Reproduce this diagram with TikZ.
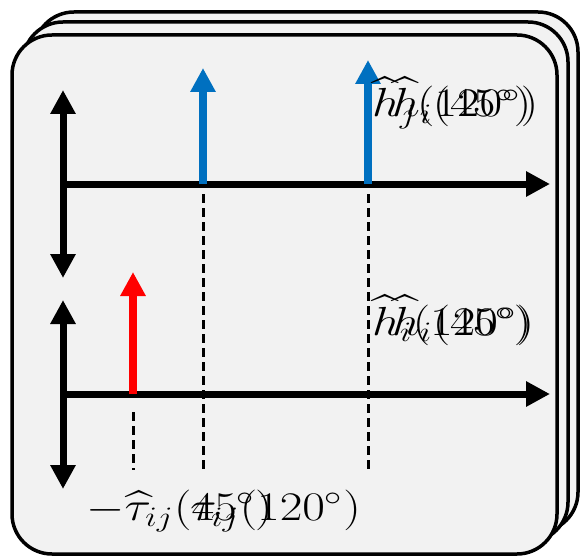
\documentclass[tikz,border=0pt]{standalone}
\usepackage{amsmath}
\usepackage{graphicx}
\usetikzlibrary{arrows.meta}
\definecolor{pagegray}{HTML}{F2F2F2}
\definecolor{impblue}{HTML}{0070C0}
\definecolor{impred}{HTML}{FF0000}
\newcommand{\biglbl}[1]{\scalebox{2.85}[2.35]{\LARGE$#1$}}
\tikzset{
  page/.style={draw=black,line width=3.5pt,fill=pagegray,rounded corners=40pt},
  axisline/.style={line width=7pt,-{Triangle[width=24pt,length=24pt]}},
  ampaxis/.style={line width=7pt,{Triangle[width=24pt,length=24pt]}-{Triangle[width=24pt,length=24pt]}},
  pulse/.style={line width=8pt,-{Triangle[width=24pt,length=24pt]}},
  guide/.style={line width=3pt,dash pattern=on 9pt off 5pt},
  lbl/.style={inner sep=0pt,anchor=base west}
}
\begin{document}
\begin{tikzpicture}[x=1pt,y=-1pt]
\useasboundingbox(0,0)rectangle(580,556);
% stacked pages
\draw[page](34,12)rectangle(578,532);
\draw[page](23,22)rectangle(568,542);
\draw[page](12,35)rectangle(557,554);
% axes
\coordinate(o1)at(63,184);
\coordinate(o2)at(63,394);
\coordinate(e1)at(550,184);
\coordinate(e2)at(550,394);
\coordinate(t1)at(63,90);
\coordinate(b1)at(63,278);
\coordinate(t2)at(63,300);
\coordinate(b2)at(63,489);
\draw[axisline](o1)--(e1);
\draw[axisline](o2)--(e2);
\draw[ampaxis](b1)--(t1);
\draw[ampaxis](b2)--(t2);
% pulses
\coordinate(pa)at(203,184);
\coordinate(pat)at(203,68);
\coordinate(pb)at(368,184);
\coordinate(pbt)at(368,60);
\coordinate(pr)at(133,394);
\coordinate(prt)at(133,272);
\draw[pulse,impblue](pa)--(pat);
\draw[pulse,impblue](pb)--(pbt);
\draw[pulse,impred](pr)--(prt);
% guides
\coordinate(ga)at(203,194);\coordinate(gae)at(203,472);
\coordinate(gb)at(368,194);\coordinate(gbe)at(368,470);
\coordinate(gr)at(133,412);\coordinate(gre)at(133,470);
\draw[guide](ga)--(gae);
\draw[guide](gb)--(gbe);
\draw[guide](gr)--(gre);
% labels
\node[lbl](hj)at(372,117){\biglbl{\widehat{h}_j(120^\circ)}};
\node[lbl](hjb)at(392,117){\biglbl{\widehat{h}_i(45^\circ)}};
\node[lbl](hi)at(372,335){\biglbl{\widehat{h}_i(120^\circ)}};
\node[lbl](hib)at(392,335){\biglbl{\widehat{h}_i(45^\circ)}};
\node[lbl](tau)at(86,520){\biglbl{-\widehat{\tau}_{ij}(45^\circ)}};
\node[lbl](taub)at(190,520){\biglbl{\tau_{ij}(120^\circ)}};
\end{tikzpicture}
\end{document}
